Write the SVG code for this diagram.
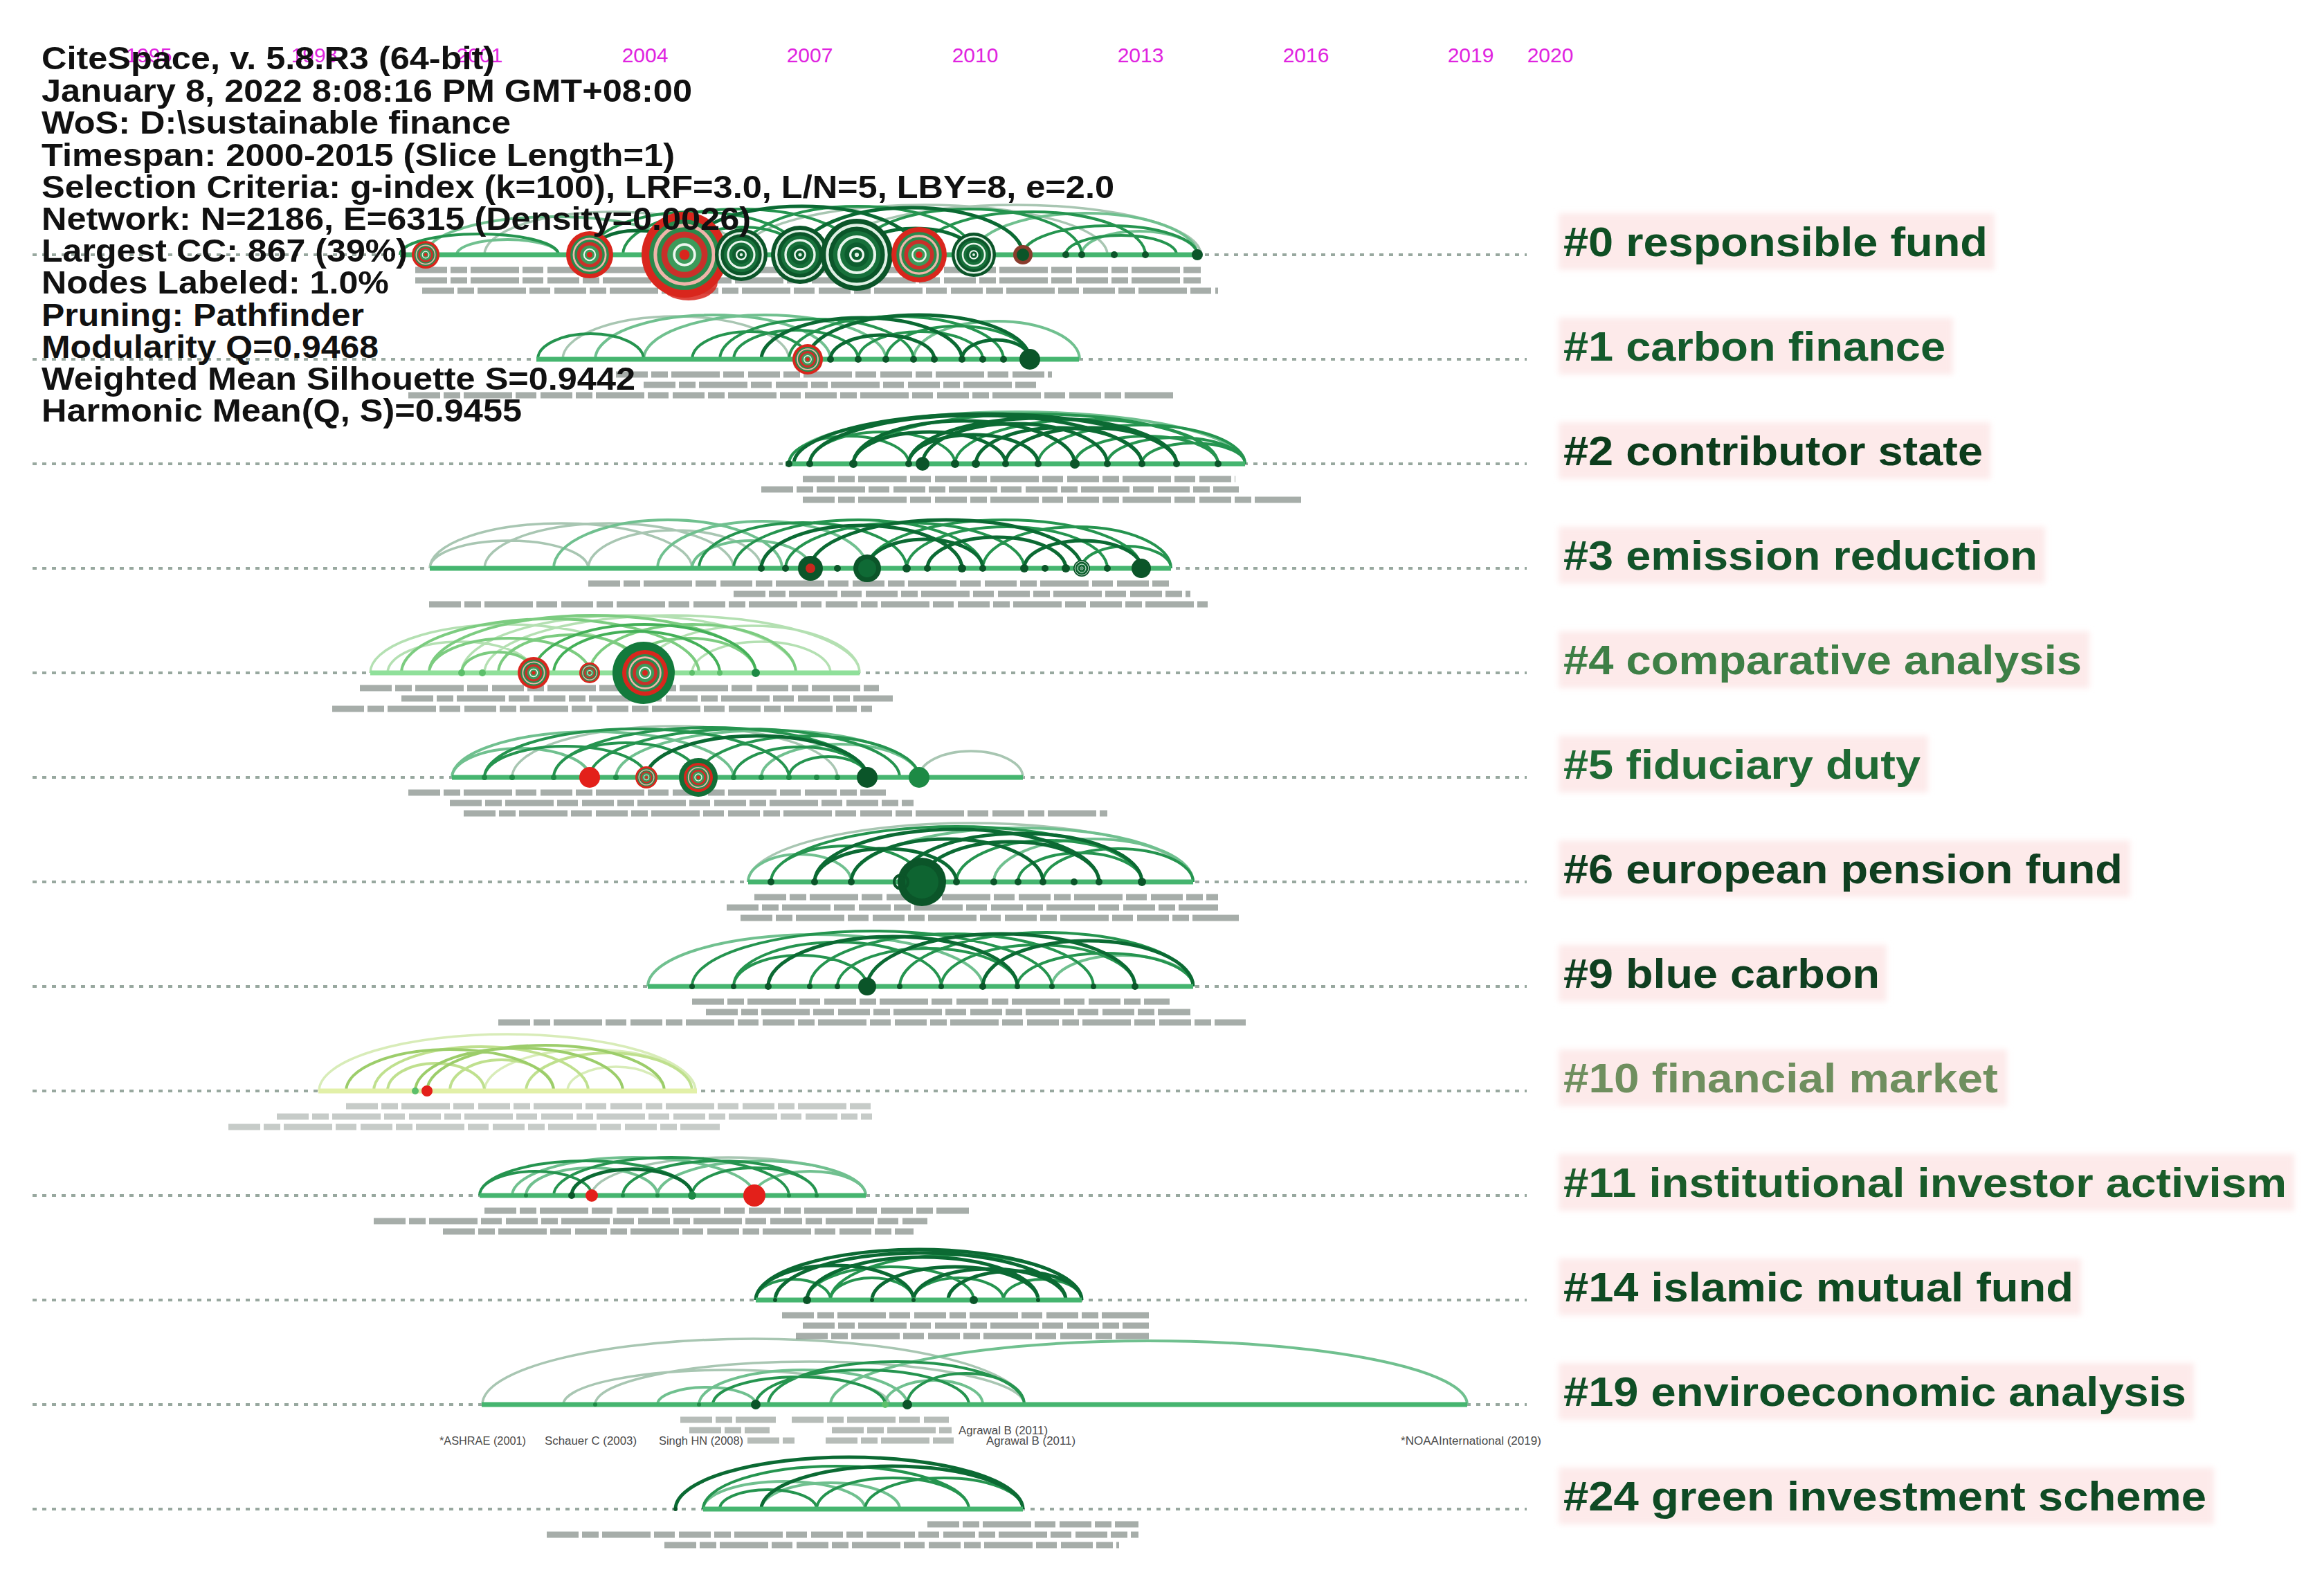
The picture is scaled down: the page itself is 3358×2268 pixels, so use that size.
<svg xmlns="http://www.w3.org/2000/svg" width="3358" height="2268" viewBox="0 0 3358 2268">
<style>
.dot{fill:none;stroke:#98a89f;stroke-width:4;stroke-dasharray:6 8}
.bar{fill:none;stroke:#45b56f;stroke-width:7}
.bar4{fill:none;stroke:#8fe09a;stroke-width:7}
.bar10{fill:none;stroke:#e2f0a8;stroke-width:7}
.a1{fill:none;stroke:#0b6a33;stroke-width:5}
.a2{fill:none;stroke:#25944f;stroke-width:4}
.a3{fill:none;stroke:#70c08f;stroke-width:4}
.a4{fill:none;stroke:#a8c6b2;stroke-width:3.5}
.b1{fill:none;stroke:#44b058;stroke-width:4}
.b2{fill:none;stroke:#7ccc80;stroke-width:4}
.b3{fill:none;stroke:#b4e0b2;stroke-width:3.5}
.y1{fill:none;stroke:#9ccd6a;stroke-width:4}
.y2{fill:none;stroke:#bfe08e;stroke-width:4}
.y3{fill:none;stroke:#d8ecb8;stroke-width:3.5}
.lb{fill:none;stroke:#5d6a62;stroke-width:9;stroke-dasharray:46 5 24 5 70 5 30 6;opacity:.55}
.dk{fill:#0b5529}
.md{fill:#1d8a45}
.lt{fill:#5cbf6a}
.rd{fill:#e3201a}
.hd{font-family:"Liberation Sans",Arial,sans-serif;font-weight:bold;font-size:46px;fill:#111}
.yr{font-family:"Liberation Sans",Arial,sans-serif;font-size:30px;fill:#e024e0;text-anchor:middle}
.cl{font-family:"Liberation Sans",Arial,sans-serif;font-weight:bold;font-size:60px}
.pk{fill:#fdeaea}
.sm{font-family:"Liberation Sans",Arial,sans-serif;font-size:16px;fill:#4a4a4a}
</style>
<defs>
<filter id="soft" x="-5%" y="-20%" width="110%" height="140%"><feGaussianBlur stdDeviation="4"/></filter>
<g id="ng">
<circle r="50" fill="#0b5529"/>
<circle r="41" fill="none" stroke="#dff0e4" stroke-width="4"/>
<circle r="33" fill="#17703a"/>
<circle r="25" fill="none" stroke="#e8f5ec" stroke-width="4"/>
<circle r="17" fill="#0d5d2e"/>
<circle r="9" fill="none" stroke="#f2faf4" stroke-width="3"/>
<circle r="3" fill="#dff0e4"/>
</g>
<g id="nr">
<circle r="50" fill="#d9261d"/>
<circle r="41" fill="#2a8a4c"/>
<circle r="34" fill="none" stroke="#f0b4aa" stroke-width="4"/>
<circle r="27" fill="#c9302a"/>
<circle r="20" fill="#3c9a5a"/>
<circle r="12" fill="none" stroke="#eef7ef" stroke-width="3"/>
<circle r="6" fill="#d9261d"/>
</g>
</defs>
<rect width="3358" height="2268" fill="#ffffff"/>

<g id="timelines">
<path class="dot" d="M47 368H2206M47 519H2206M47 670H2206M47 821H2206M47 972H2206M47 1123H2206M47 1274H2206M47 1425H2206M47 1576H2206M47 1727H2206M47 1878H2206M47 2029H2206M47 2180H2206"/>
</g>

<g id="years">
<text class="yr" x="215" y="90">1995</text>
<text class="yr" x="454" y="90">1998</text>
<text class="yr" x="693" y="90">2001</text>
<text class="yr" x="932" y="90">2004</text>
<text class="yr" x="1170" y="90">2007</text>
<text class="yr" x="1409" y="90">2010</text>
<text class="yr" x="1648" y="90">2013</text>
<text class="yr" x="1887" y="90">2016</text>
<text class="yr" x="2125" y="90">2019</text>
<text class="yr" x="2240" y="90">2020</text>
</g>

<g id="connectors">
<g id="arcs-0">
<path class="a4" d="M1071 368A264.5 72 0 0 1 1600 368M1200 368A267.5 72 0 0 1 1735 368M700 368A185.5 62 0 0 1 1071 368"/>
<path class="a3" d="M660 368A73.5 22 0 0 1 807 368M615 368A187 55 0 0 1 989 368M1407 368A161.5 60 0 0 1 1730 368M1563 368A83.5 34 0 0 1 1730 368"/>
<path class="a2" d="M578 368A114.5 30 0 0 1 807 368M852 368A152 62 0 0 1 1156 368M900 368A169 66 0 0 1 1238 368M1071 368A168 70 0 0 1 1407 368M1238 368A162.5 66 0 0 1 1563 368M1328 368A163.5 62 0 0 1 1655 368M1478 368A126 42 0 0 1 1730 368M1540 368A80 28 0 0 1 1700 368M989 368A83.5 40 0 0 1 1156 368"/>
<path class="a1" d="M852 368A68.5 35 0 0 1 989 368M989 368A169.5 70 0 0 1 1328 368M1156 368A161 68 0 0 1 1478 368M1238 368A84.5 38 0 0 1 1407 368"/>
</g>
<g id="arcs-1">
<path class="a4" d="M813 519A163.5 62 0 0 1 1140 519"/>
<path class="a3" d="M860 519A170 64 0 0 1 1200 519M930 519A175 64 0 0 1 1280 519M1320 519A120 55 0 0 1 1560 519"/>
<path class="a2" d="M777 519A76.5 37 0 0 1 930 519M1000 519A83.5 40 0 0 1 1167 519M1040 519A140 58 0 0 1 1320 519M1140 519A155 62 0 0 1 1450 519M1240 519A90 40 0 0 1 1420 519M1280 519A104 48 0 0 1 1488 519M1060 519A90 42 0 0 1 1240 519"/>
<path class="a1" d="M1100 519A145 60 0 0 1 1390 519M1167 519A160.5 64 0 0 1 1488 519M1200 519A75 35 0 0 1 1350 519M1390 519A49 28 0 0 1 1488 519"/>
</g>
<g id="arcs-2">
<path class="a3" d="M1140 670A329.5 75 0 0 1 1799 670"/>
<path class="a2" d="M1233 670A263.5 72 0 0 1 1760 670M1380 670A190 64 0 0 1 1760 670M1500 670A149.5 56 0 0 1 1799 670M1170 670A105 46 0 0 1 1380 670M1553 670A103.5 40 0 0 1 1760 670M1600 670A99.5 38 0 0 1 1799 670M1140 670A86.5 40 0 0 1 1313 670M1650 670A74.5 30 0 0 1 1799 670"/>
<path class="a1" d="M1147 670A276.5 72 0 0 1 1700 670M1170 670A240 70 0 0 1 1650 670M1233 670A160 62 0 0 1 1553 670M1313 670A193.5 66 0 0 1 1700 670M1333 670A133.5 58 0 0 1 1600 670M1410 670A120 52 0 0 1 1650 670M1453 670A123.5 52 0 0 1 1700 670M1313 670A93.5 42 0 0 1 1500 670M1233 670A110 46 0 0 1 1453 670"/>
</g>
<g id="arcs-3">
<path class="a4" d="M621 821A189.5 65 0 0 1 1000 821M700 821A180 65 0 0 1 1060 821M850 821A125 55 0 0 1 1100 821M621 821A114.5 40 0 0 1 850 821"/>
<path class="a3" d="M800 821A165 70 0 0 1 1130 821M950 821A151.5 68 0 0 1 1253 821M1000 821A85.5 40 0 0 1 1171 821"/>
<path class="a2" d="M1010 821A150 66 0 0 1 1310 821M1060 821A180 70 0 0 1 1420 821M1135 821A172.5 66 0 0 1 1480 821M1253 821A198 70 0 0 1 1649 821M1310 821A145 60 0 0 1 1600 821M1420 821A136 60 0 0 1 1692 821M1563 821A64.5 32 0 0 1 1692 821"/>
<path class="a1" d="M1100 821A145 62 0 0 1 1390 821M1171 821A196 70 0 0 1 1563 821M1340 821A100 45 0 0 1 1540 821M1480 821A84.5 40 0 0 1 1649 821M1253 821A83.5 42 0 0 1 1420 821"/>
</g>
<g id="arcs-4">
<path class="b3" d="M535 972A197.5 70 0 0 1 930 972M667 972A241.5 83 0 0 1 1150 972M700 972A271 83 0 0 1 1242 972M930 972A156 68 0 0 1 1242 972M560 972A105.5 45 0 0 1 771 972M1000 972A100 45 0 0 1 1200 972"/>
<path class="b2" d="M580 972A215 78 0 0 1 1010 972M620 972A236 83 0 0 1 1092 972M720 972A105 55 0 0 1 930 972M852 972A149 70 0 0 1 1150 972M620 972A116 50 0 0 1 852 972M667 972A52 30 0 0 1 771 972M900 972A96 50 0 0 1 1092 972"/>
<path class="b1" d="M771 972A160.5 70 0 0 1 1092 972M800 972A120 60 0 0 1 1040 972"/>
</g>
<g id="arcs-5">
<path class="a4" d="M740 1123A235 74 0 0 1 1210 1123M1328 1123A75 38 0 0 1 1478 1123"/>
<path class="a3" d="M653 1123A203.5 66 0 0 1 1060 1123M890 1123A219 68 0 0 1 1328 1123M1100 1123A114 48 0 0 1 1328 1123M653 1123A99.5 42 0 0 1 852 1123"/>
<path class="a2" d="M700 1123A220 70 0 0 1 1140 1123M800 1123A226.5 72 0 0 1 1253 1123M852 1123A224 70 0 0 1 1300 1123M1009 1123A159.5 60 0 0 1 1328 1123M700 1123A117 45 0 0 1 934 1123M800 1123A104.5 50 0 0 1 1009 1123M1060 1123A96.5 44 0 0 1 1253 1123M1140 1123A56.5 30 0 0 1 1253 1123"/>
<path class="a1" d="M934 1123A159.5 60 0 0 1 1253 1123"/>
</g>
<g id="arcs-6">
<path class="a4" d="M1081 1274A321.5 85 0 0 1 1724 1274"/>
<path class="a3" d="M1230 1274A247 78 0 0 1 1724 1274M1436 1274A144 62 0 0 1 1724 1274M1081 1274A74.5 40 0 0 1 1230 1274"/>
<path class="a2" d="M1114 1274A268 80 0 0 1 1650 1274M1114 1274A109 52 0 0 1 1332 1274M1382 1274A134 60 0 0 1 1650 1274M1471 1274A89.5 42 0 0 1 1650 1274M1507 1274A108.5 48 0 0 1 1724 1274"/>
<path class="a1" d="M1177 1274A205.5 76 0 0 1 1588 1274M1230 1274A138.5 62 0 0 1 1507 1274M1302 1274A174 70 0 0 1 1650 1274M1332 1274A128 58 0 0 1 1588 1274M1177 1274A102.5 48 0 0 1 1382 1274"/>
</g>
<g id="arcs-9">
<path class="a3" d="M936 1425A242 75 0 0 1 1420 1425M1520 1425A102 45 0 0 1 1724 1425"/>
<path class="a2" d="M1000 1425A260 80 0 0 1 1520 1425M1060 1425A150 64 0 0 1 1360 1425M1170 1425A205 76 0 0 1 1580 1425M1300 1425A212 78 0 0 1 1724 1425M1360 1425A140 60 0 0 1 1640 1425M1470 1425A127 48 0 0 1 1724 1425M1060 1425A96.5 45 0 0 1 1253 1425M1210 1425A130 55 0 0 1 1470 1425"/>
<path class="a1" d="M1110 1425A180 72 0 0 1 1470 1425M1253 1425A193.5 76 0 0 1 1640 1425M1420 1425A152 66 0 0 1 1724 1425"/>
</g>
<g id="arcs-10">
<path class="y3" d="M461 1576A272 82 0 0 1 1005 1576M700 1576A152.5 60 0 0 1 1005 1576M820 1576A70 35 0 0 1 960 1576"/>
<path class="y2" d="M540 1576A155 64 0 0 1 850 1576M560 1576A70 40 0 0 1 700 1576M650 1576A75 45 0 0 1 800 1576M760 1576A120 55 0 0 1 1000 1576"/>
<path class="y1" d="M500 1576A150 60 0 0 1 800 1576M600 1576A150 62 0 0 1 900 1576M617 1576A171.5 66 0 0 1 960 1576"/>
</g>
<g id="arcs-11">
<path class="a4" d="M855 1727A198 55 0 0 1 1251 1727"/>
<path class="a3" d="M740 1727A175 55 0 0 1 1090 1727M950 1727A150.5 50 0 0 1 1251 1727M1090 1727A80.5 35 0 0 1 1251 1727M760 1727A95 40 0 0 1 950 1727"/>
<path class="a2" d="M693 1727A153.5 50 0 0 1 1000 1727M800 1727A170 55 0 0 1 1140 1727M900 1727A140 50 0 0 1 1180 1727M693 1727A81 35 0 0 1 855 1727M1000 1727A90 40 0 0 1 1180 1727"/>
<path class="a1" d="M826 1727A87 38 0 0 1 1000 1727"/>
</g>
<g id="arcs-14">
<path class="a2" d="M1200 1878A181.5 65 0 0 1 1563 1878M1166 1878A120.5 48 0 0 1 1407 1878M1092 1878A54 30 0 0 1 1200 1878M1200 1878A60 32 0 0 1 1320 1878M1320 1878A65 32 0 0 1 1450 1878M1450 1878A56.5 30 0 0 1 1563 1878"/>
<path class="a1" d="M1092 1878A235.5 73 0 0 1 1563 1878M1120 1878A210 68 0 0 1 1540 1878M1166 1878A167 62 0 0 1 1500 1878M1092 1878A114 50 0 0 1 1320 1878M1260 1878A120 48 0 0 1 1500 1878M1320 1878A110 45 0 0 1 1540 1878M1370 1878A96.5 42 0 0 1 1563 1878"/>
</g>
<g id="arcs-19">
<path class="a4" d="M697 2029A391.5 95 0 0 1 1480 2029M860 2029A310 62 0 0 1 1480 2029M814 2029A235.5 50 0 0 1 1285 2029"/>
<path class="a3" d="M1010 2029A150.5 50 0 0 1 1311 2029M1200 2029A460 92 0 0 1 2120 2029M1279 2029A70.5 35 0 0 1 1420 2029M950 2029A71 25 0 0 1 1092 2029"/>
<path class="a2" d="M1092 2029A154 50 0 0 1 1400 2029M1110 2029A185 62 0 0 1 1480 2029M1030 2029A124.5 40 0 0 1 1279 2029M1311 2029A84.5 45 0 0 1 1480 2029"/>
</g>
<g id="arcs-24">
<path class="a3" d="M1016 2180A117 40 0 0 1 1250 2180M1100 2180A100 38 0 0 1 1300 2180"/>
<path class="a2" d="M1016 2180A192 62 0 0 1 1400 2180M1180 2180A110 45 0 0 1 1400 2180M1250 2180A114 45 0 0 1 1478 2180M1040 2180A70 28 0 0 1 1180 2180"/>
<path class="a1" d="M976 2180A251 75 0 0 1 1478 2180M1100 2180A189 62 0 0 1 1478 2180"/>
</g>
</g>

<g id="bars">
<path class="bar" d="M578 368H1735M775 519H1559M1135 670H1799M621 821H1692M653 1123H1478M1081 1274H1724M936 1425H1724M693 1727H1251M1092 1878H1563M696 2029H2120M1016 2180H1478"/>
<path class="bar4" d="M535 972H1242"/>
<path class="bar10" d="M460 1576H1007"/>
</g>

<g id="node-labels">
<path class="lb" d="M600 390H1735M600 405H1735M610 420H1760"/>
<path class="lb" d="M890 541H1520M930 556H1500M590 571H1700"/>
<path class="lb" d="M1160 692H1785M1100 707H1790M1160 722H1880"/>
<path class="lb" d="M850 843H1690M1060 858H1720M620 873H1745"/>
<path class="lb" d="M520 994H1270M580 1009H1290M480 1024H1260"/>
<path class="lb" d="M590 1145H1280M650 1160H1320M670 1175H1600"/>
<path class="lb" d="M1090 1296H1760M1050 1311H1760M1070 1326H1790"/>
<path class="lb" d="M1000 1447H1690M1020 1462H1720M720 1477H1800"/>
<path class="lb" d="M500 1598H1260M400 1613H1260M330 1628H1040" style="opacity:.35"/>
<path class="lb" d="M700 1749H1400M540 1764H1340M640 1779H1320"/>
<path class="lb" d="M1130 1900H1660M1160 1915H1660M1150 1930H1660"/>
<path class="lb" d="M983 2051H1121M1144 2051H1371M996 2066H1112M1202 2066H1375M1080 2081H1148M1193 2081H1380" style="opacity:.45"/>
<text class="sm" x="1385" y="2072" textLength="129" lengthAdjust="spacingAndGlyphs">Agrawal B (2011)</text>
<text class="sm" x="635" y="2087" textLength="125" lengthAdjust="spacingAndGlyphs">*ASHRAE (2001)</text>
<text class="sm" x="787" y="2087" textLength="133" lengthAdjust="spacingAndGlyphs">Schauer C (2003)</text>
<text class="sm" x="952" y="2087" textLength="122" lengthAdjust="spacingAndGlyphs">Singh HN (2008)</text>
<text class="sm" x="1425" y="2087" textLength="129" lengthAdjust="spacingAndGlyphs">Agrawal B (2011)</text>
<text class="sm" x="2024" y="2087" textLength="203" lengthAdjust="spacingAndGlyphs">*NOAAInternational (2019)</text>
<path class="lb" d="M1340 2202H1645M790 2217H1645M960 2232H1617"/>
</g>

<g id="nodes-0">
<use href="#nr" transform="translate(615 368) scale(0.4)"/>
<use href="#nr" transform="translate(852 368) scale(0.68)"/>
<ellipse cx="995" cy="408" rx="42" ry="26" fill="#d9261d" opacity="0.85"/>
<use href="#nr" transform="translate(989 368) scale(1.24)"/>
<use href="#ng" transform="translate(1071 368) scale(0.76)"/>
<use href="#ng" transform="translate(1156 368) scale(0.84)"/>
<use href="#ng" transform="translate(1238 368) scale(1.04)"/>
<use href="#nr" transform="translate(1328 368) scale(0.8)"/>
<use href="#ng" transform="translate(1407 368) scale(0.64)"/>
<circle cx="1478" cy="368" r="14" fill="#8a3b2c"/><circle cx="1478" cy="368" r="9" class="dk"/>
<circle cx="1540" cy="368" r="5" class="dk"/><circle cx="1563" cy="368" r="5" class="dk"/><circle cx="1610" cy="368" r="5" class="dk"/><circle cx="1655" cy="368" r="5" class="dk"/><circle cx="1730" cy="368" r="8" class="dk"/>
</g>
<g id="nodes-1">
<use href="#nr" transform="translate(1167 519) scale(0.44)"/>
<circle cx="1488" cy="519" r="15" class="dk"/>
<circle cx="1200" cy="519" r="5" class="dk"/><circle cx="1240" cy="519" r="5" class="dk"/><circle cx="1280" cy="519" r="5" class="dk"/><circle cx="1320" cy="519" r="5" class="dk"/><circle cx="1350" cy="519" r="5" class="dk"/><circle cx="1390" cy="519" r="5" class="dk"/><circle cx="1420" cy="519" r="5" class="dk"/><circle cx="1450" cy="519" r="5" class="dk"/>
</g>
<g id="nodes-2">
<circle cx="1140" cy="670" r="5" class="dk"/><circle cx="1170" cy="670" r="5" class="dk"/><circle cx="1233" cy="670" r="6" class="dk"/><circle cx="1313" cy="670" r="5" class="dk"/><circle cx="1333" cy="670" r="10" class="dk"/><circle cx="1380" cy="670" r="6" class="dk"/><circle cx="1410" cy="670" r="6" class="dk"/><circle cx="1453" cy="670" r="5" class="dk"/><circle cx="1500" cy="670" r="5" class="dk"/><circle cx="1553" cy="670" r="7" class="dk"/><circle cx="1600" cy="670" r="5" class="dk"/><circle cx="1650" cy="670" r="5" class="dk"/><circle cx="1700" cy="670" r="5" class="dk"/><circle cx="1760" cy="670" r="5" class="dk"/>
</g>
<g id="nodes-3">
<circle cx="1171" cy="821" r="18" class="dk"/><circle cx="1171" cy="821" r="7" fill="#c8281e"/>
<circle cx="1253" cy="821" r="20" class="dk"/><circle cx="1253" cy="821" r="13" fill="#0f6a35"/>
<use href="#ng" transform="translate(1563 821) scale(0.24)"/>
<circle cx="1649" cy="821" r="14" class="dk"/>
<circle cx="1100" cy="821" r="5" class="dk"/><circle cx="1135" cy="821" r="5" class="dk"/><circle cx="1210" cy="821" r="5" class="dk"/><circle cx="1310" cy="821" r="6" class="dk"/><circle cx="1340" cy="821" r="5" class="dk"/><circle cx="1390" cy="821" r="6" class="dk"/><circle cx="1420" cy="821" r="5" class="dk"/><circle cx="1480" cy="821" r="6" class="dk"/><circle cx="1510" cy="821" r="5" class="dk"/><circle cx="1540" cy="821" r="6" class="dk"/><circle cx="1600" cy="821" r="5" class="dk"/>
</g>
<g id="nodes-4">
<circle cx="667" cy="972" r="5" class="lt"/><circle cx="697" cy="972" r="5" class="lt"/><circle cx="1092" cy="972" r="6" class="md"/><circle cx="1000" cy="972" r="4" class="lt"/><circle cx="1040" cy="972" r="4" class="lt"/>
<use href="#nr" transform="translate(771 972) scale(0.46)"/>
<use href="#nr" transform="translate(852 972) scale(0.3)"/>
<circle cx="930" cy="972" r="45" fill="#137a3c"/>
<use href="#nr" transform="translate(932 972) scale(0.66)"/>
</g>
<g id="nodes-5">
<circle cx="852" cy="1123" r="15" class="rd"/>
<use href="#nr" transform="translate(934 1123) scale(0.32)"/>
<circle cx="1009" cy="1123" r="28" fill="#136f37"/>
<use href="#nr" transform="translate(1009 1123) scale(0.42)"/>
<circle cx="1253" cy="1123" r="15" class="dk"/>
<circle cx="1328" cy="1123" r="15" class="md"/>
<circle cx="700" cy="1123" r="4" class="md"/><circle cx="740" cy="1123" r="4" class="md"/><circle cx="800" cy="1123" r="4" class="md"/><circle cx="890" cy="1123" r="4" class="md"/><circle cx="1060" cy="1123" r="4" class="md"/><circle cx="1100" cy="1123" r="4" class="md"/><circle cx="1140" cy="1123" r="4" class="md"/><circle cx="1180" cy="1123" r="4" class="md"/><circle cx="1210" cy="1123" r="4" class="md"/>
</g>
<g id="nodes-6">
<circle cx="1332" cy="1274" r="35" class="dk"/><circle cx="1332" cy="1274" r="24" fill="#0e6431"/>
<circle cx="1302" cy="1274" r="10" fill="none" stroke="#0b5529" stroke-width="4"/>
<circle cx="1114" cy="1274" r="5" class="dk"/><circle cx="1177" cy="1274" r="5" class="dk"/><circle cx="1230" cy="1274" r="5" class="dk"/><circle cx="1382" cy="1274" r="5" class="dk"/><circle cx="1436" cy="1274" r="5" class="dk"/><circle cx="1471" cy="1274" r="5" class="dk"/><circle cx="1507" cy="1274" r="5" class="dk"/><circle cx="1552" cy="1274" r="5" class="dk"/><circle cx="1588" cy="1274" r="5" class="dk"/><circle cx="1650" cy="1274" r="6" class="dk"/>
</g>
<g id="nodes-9">
<circle cx="1253" cy="1425" r="13" class="dk"/>
<circle cx="1000" cy="1425" r="4" class="dk"/><circle cx="1060" cy="1425" r="4" class="dk"/><circle cx="1110" cy="1425" r="5" class="dk"/><circle cx="1170" cy="1425" r="4" class="dk"/><circle cx="1210" cy="1425" r="4" class="dk"/><circle cx="1300" cy="1425" r="4" class="dk"/><circle cx="1360" cy="1425" r="4" class="dk"/><circle cx="1420" cy="1425" r="5" class="dk"/><circle cx="1470" cy="1425" r="4" class="dk"/><circle cx="1520" cy="1425" r="4" class="dk"/><circle cx="1580" cy="1425" r="4" class="dk"/><circle cx="1640" cy="1425" r="5" class="dk"/>
</g>
<g id="nodes-10">
<circle cx="600" cy="1576" r="5" class="lt"/>
<circle cx="617" cy="1576" r="8" class="rd"/>
</g>
<g id="nodes-11">
<circle cx="826" cy="1727" r="5" class="dk"/>
<circle cx="855" cy="1727" r="9" class="rd"/>
<circle cx="1000" cy="1727" r="6" class="md"/>
<circle cx="1090" cy="1727" r="16" class="rd"/>
<circle cx="760" cy="1727" r="3" class="md"/><circle cx="900" cy="1727" r="3" class="md"/><circle cx="950" cy="1727" r="3" class="md"/><circle cx="1140" cy="1727" r="3" class="md"/><circle cx="1180" cy="1727" r="3" class="md"/>
</g>
<g id="nodes-14">
<circle cx="1166" cy="1878" r="6" class="dk"/><circle cx="1407" cy="1878" r="6" class="dk"/>
<circle cx="1120" cy="1878" r="3" class="dk"/><circle cx="1260" cy="1878" r="3" class="dk"/><circle cx="1320" cy="1878" r="3" class="dk"/><circle cx="1500" cy="1878" r="3" class="dk"/>
</g>
<g id="nodes-19">
<circle cx="1092" cy="2029" r="7" class="dk"/><circle cx="1311" cy="2029" r="7" class="dk"/><circle cx="1279" cy="2029" r="5" class="lt"/>
<circle cx="860" cy="2029" r="3" class="md"/><circle cx="1010" cy="2029" r="3" class="md"/>
</g>
<g id="nodes-24">
<circle cx="976" cy="2180" r="3" class="dk"/>
</g>

<g id="cluster-labels">
<g filter="url(#soft)">
<rect class="pk" x="2252" y="308" width="630" height="82"/>
<rect class="pk" x="2252" y="459" width="570" height="82"/>
<rect class="pk" x="2252" y="610" width="624" height="82"/>
<rect class="pk" x="2252" y="761" width="703" height="82"/>
<rect class="pk" x="2252" y="912" width="767" height="82"/>
<rect class="pk" x="2252" y="1063" width="534" height="82"/>
<rect class="pk" x="2252" y="1214" width="826" height="82"/>
<rect class="pk" x="2252" y="1365" width="474" height="82"/>
<rect class="pk" x="2252" y="1516" width="648" height="82"/>
<rect class="pk" x="2252" y="1667" width="1063" height="82"/>
<rect class="pk" x="2252" y="1818" width="755" height="82"/>
<rect class="pk" x="2252" y="1969" width="918" height="82"/>
<rect class="pk" x="2252" y="2120" width="947" height="82"/>
</g>
<text class="cl" x="2259" y="370" textLength="613" lengthAdjust="spacingAndGlyphs" fill="#0f4f24">#0 responsible fund</text>
<text class="cl" x="2259" y="521" textLength="552" lengthAdjust="spacingAndGlyphs" fill="#145a2c">#1 carbon finance</text>
<text class="cl" x="2259" y="672" textLength="606" lengthAdjust="spacingAndGlyphs" fill="#0c3c1c">#2 contributor state</text>
<text class="cl" x="2259" y="823" textLength="685" lengthAdjust="spacingAndGlyphs" fill="#125229">#3 emission reduction</text>
<text class="cl" x="2259" y="974" textLength="749" lengthAdjust="spacingAndGlyphs" fill="#3e7f46">#4 comparative analysis</text>
<text class="cl" x="2259" y="1125" textLength="516" lengthAdjust="spacingAndGlyphs" fill="#1f6a34">#5 fiduciary duty</text>
<text class="cl" x="2259" y="1276" textLength="808" lengthAdjust="spacingAndGlyphs" fill="#0f3f20">#6 european pension fund</text>
<text class="cl" x="2259" y="1427" textLength="457" lengthAdjust="spacingAndGlyphs" fill="#0f3f20">#9 blue carbon</text>
<text class="cl" x="2259" y="1578" textLength="628" lengthAdjust="spacingAndGlyphs" fill="#6f8f5f">#10 financial market</text>
<text class="cl" x="2259" y="1729" textLength="1045" lengthAdjust="spacingAndGlyphs" fill="#1a5c2a">#11 institutional investor activism</text>
<text class="cl" x="2259" y="1880" textLength="737" lengthAdjust="spacingAndGlyphs" fill="#0e4a22">#14 islamic mutual fund</text>
<text class="cl" x="2259" y="2031" textLength="900" lengthAdjust="spacingAndGlyphs" fill="#0f4f26">#19 enviroeconomic analysis</text>
<text class="cl" x="2259" y="2182" textLength="929" lengthAdjust="spacingAndGlyphs" fill="#0f4a24">#24 green investment scheme</text>
</g>

<g id="header">
<text class="hd" x="60" y="100" textLength="655" lengthAdjust="spacingAndGlyphs">CiteSpace, v. 5.8.R3 (64-bit)</text>
<text class="hd" x="60" y="147" textLength="940" lengthAdjust="spacingAndGlyphs">January 8, 2022 8:08:16 PM GMT+08:00</text>
<text class="hd" x="60" y="193" textLength="678" lengthAdjust="spacingAndGlyphs">WoS: D:\sustainable finance</text>
<text class="hd" x="60" y="240" textLength="915" lengthAdjust="spacingAndGlyphs">Timespan: 2000-2015 (Slice Length=1)</text>
<text class="hd" x="60" y="286" textLength="1550" lengthAdjust="spacingAndGlyphs">Selection Criteria: g-index (k=100), LRF=3.0, L/N=5, LBY=8, e=2.0</text>
<text class="hd" x="60" y="332" textLength="1025" lengthAdjust="spacingAndGlyphs">Network: N=2186, E=6315 (Density=0.0026)</text>
<text class="hd" x="60" y="378" textLength="529" lengthAdjust="spacingAndGlyphs">Largest CC: 867 (39%)</text>
<text class="hd" x="60" y="424" textLength="502" lengthAdjust="spacingAndGlyphs">Nodes Labeled: 1.0%</text>
<text class="hd" x="60" y="471" textLength="466" lengthAdjust="spacingAndGlyphs">Pruning: Pathfinder</text>
<text class="hd" x="60" y="517" textLength="487" lengthAdjust="spacingAndGlyphs">Modularity Q=0.9468</text>
<text class="hd" x="60" y="563" textLength="858" lengthAdjust="spacingAndGlyphs">Weighted Mean Silhouette S=0.9442</text>
<text class="hd" x="60" y="609" textLength="694" lengthAdjust="spacingAndGlyphs">Harmonic Mean(Q, S)=0.9455</text>
</g>
</svg>
